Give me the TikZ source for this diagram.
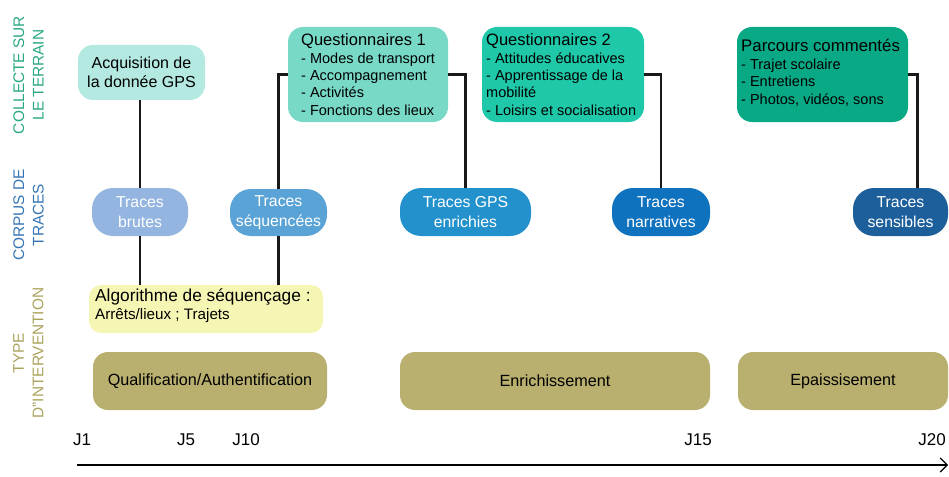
\documentclass[tikz,border=0pt]{standalone}
\usepackage{fontspec}
\setmainfont{Liberation Sans}
\usetikzlibrary{arrows.meta}
\newcommand\myfs[2]{\fontsize{#1}{#2}\selectfont}
\definecolor{cAcq}{HTML}{B3E9E0}
\definecolor{cQa}{HTML}{78D9C7}
\definecolor{cQb}{HTML}{1EC8A8}
\definecolor{cPar}{HTML}{0AA986}
\definecolor{cBru}{HTML}{94B5E0}
\definecolor{cSeq}{HTML}{5AA3D6}
\definecolor{cGps}{HTML}{2391CC}
\definecolor{cNar}{HTML}{0F72BF}
\definecolor{cSen}{HTML}{1C5F9B}
\definecolor{cAlg}{HTML}{F6F6B4}
\definecolor{cOli}{HTML}{B9B06F}
\definecolor{tCol}{HTML}{2AA784}
\definecolor{tCor}{HTML}{3575B5}
\definecolor{tTyp}{HTML}{ABA35D}
\begin{document}
\begin{tikzpicture}[x=1pt,y=-1pt,
  box/.style={anchor=north west, inner sep=0pt, outer sep=0pt, rounded corners=15pt, draw=none},
  txt/.style={anchor=west, inner sep=0pt, align=left, text=black},
  trace/.style={box, rounded corners=21pt, align=center, text=white, font=\myfs{15.8}{19.5}},
  olive/.style={box, fill=cOli, rounded corners=15pt, minimum height=58pt, font=\myfs{16.2}{19}},
  side/.style={rotate=90, align=center, inner sep=0pt, font=\myfs{15.4}{19.5}},
  conn/.style={line width=2.5pt, color=black!90},
  jlab/.style={inner sep=0pt, font=\myfs{17}{19}},
]
\useasboundingbox (0,0) rectangle (949,476);

% side labels
\node[side, text=tCol] (l1) at (28.5,75) {COLLECTE SUR\\LE TERRAIN};
\node[side, text=tCor] (l2) at (28.5,215) {CORPUS DE\\TRACES};
\node[side, text=tTyp] (l3) at (28.5,353) {TYPE\\D"INTERVENTION};

% top row
\node[box, fill=cAcq, minimum width=127pt, minimum height=55pt, align=center, font=\myfs{16}{19}] (acq) at (78,45) {Acquisition de\\la donnée GPS};

\node[box, fill=cQa, minimum width=160pt, minimum height=95pt] (q1) at (288,27) {};
\node[txt, font=\myfs{14.5}{17.3}] (q1t) at ([xshift=13pt]q1.west)
  {{\myfs{16.5}{17.3}Questionnaires 1}\\- Modes de transport\\- Accompagnement\\- Activités\\- Fonctions des lieux};

\node[box, fill=cQb, minimum width=162pt, minimum height=95pt] (q2) at (482,27) {};
\node[txt, font=\myfs{14.5}{17.3}] (q2t) at ([xshift=4pt]q2.west)
  {{\myfs{16.5}{17.3}Questionnaires 2}\\- Attitudes éducatives\\- Apprentissage de la\\mobilité\\- Loisirs et socialisation};

\node[box, fill=cPar, minimum width=171pt, minimum height=95pt] (par) at (737,27) {};
\node[txt, font=\myfs{14.5}{17.5}] (part) at ([xshift=4pt,yshift=2pt]par.west)
  {{\myfs{16.8}{17.5}Parcours commentés}\\- Trajet scolaire\\- Entretiens\\- Photos, vidéos, sons};

% traces
\node[trace, fill=cBru, minimum width=96pt, minimum height=48pt] (bru) at (92,188) {Traces\\brutes};
\node[trace, fill=cSeq, minimum width=97pt, minimum height=47pt] (seq) at (230,189) {Traces\\séquencées};
\node[trace, fill=cGps, minimum width=131pt, minimum height=48pt] (gps) at (400,188) {Traces GPS\\enrichies};
\node[trace, fill=cNar, minimum width=98pt, minimum height=48pt] (nar) at (612,188) {Traces\\narratives};
\node[trace, fill=cSen, minimum width=95pt, minimum height=48pt] (sen) at (853,188) {Traces\\sensibles};

% algorithm
\node[box, fill=cAlg, rounded corners=12pt, minimum width=234pt, minimum height=48pt] (alg) at (89,285) {};
\node[txt, font=\myfs{15.2}{18}] (algt) at ([xshift=6pt,yshift=3pt]alg.west)
  {{\myfs{17.3}{18}Algorithme de séquençage :}\\Arrêts/lieux ; Trajets};

% intervention types
\node[olive, minimum width=234pt] (qua) at (93,352) {Qualification/Authentification};
\node[olive, minimum width=310pt] (enr) at (400,352) {Enrichissement};
\node[olive, minimum width=210pt] (epa) at (738,352) {Epaissisement};

% connectors
\draw[conn] (bru.north) -- (bru.north |- acq.south);
\draw[conn] (bru.south) -- (bru.south |- alg.north);
\draw[conn] (seq.north) |- (q1.west);
\draw[conn] (seq.south) -- (seq.south |- alg.north);
\draw[conn] (q1.east) -| (gps.north);
\draw[conn] (q2.east) -| (nar.north);
\draw[conn] (par.east) -| ([xshift=17pt]sen.north);

% time axis
\coordinate (ax0) at (77,465);
\coordinate (ax1) at (948,465);
\draw[line width=1.5pt, -{Straight Barb[length=7pt,width=14pt,line width=1.2pt]}] (ax0) -- (ax1);
\node[jlab] (j1) at (82,440) {J1};
\node[jlab] (j5) at (186,440) {J5};
\node[jlab] (j10) at (246,440) {J10};
\node[jlab] (j15) at (698,440) {J15};
\node[jlab] (j20) at (932,440) {J20};
\end{tikzpicture}
\end{document}
